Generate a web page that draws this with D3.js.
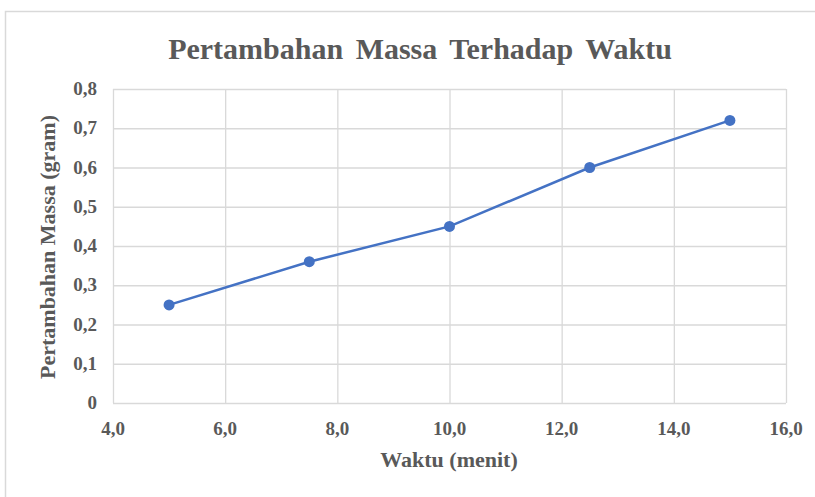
<!DOCTYPE html>
<html lang="en">
<head>
<meta charset="utf-8">
<title>Pertambahan Massa Terhadap Waktu</title>
<script src="https://cdn.jsdelivr.net/npm/d3@7"></script>
<style>
  body { margin: 0; background: #fff; }
  text { font-family: "Liberation Serif", "Times New Roman", serif; font-weight: bold; fill: #595959; }
  .grid line { stroke: #d9d9d9; stroke-width: 1.3; }
  .grid .domain { display: none; }
</style>
</head>
<body>
<div id="chart"></div>
<script>
  // data
  var waktu = [5, 7.5, 10, 12.5, 15];
  var massa = [0.25, 0.36, 0.45, 0.60, 0.72];
  var xTicks = [4, 6, 8, 10, 12, 14, 16];
  var yTicks = [0, 0.1, 0.2, 0.3, 0.4, 0.5, 0.6, 0.7, 0.8];

  var width = 815, height = 497;
  var margin = {left: 113, right: 29, top: 89, bottom: 94};

  var svg = d3.select("#chart").append("svg")
      .attr("width", width)
      .attr("height", height);

  // outer chart frame
  svg.append("rect")
      .attr("x", 5.5).attr("y", 11.5)
      .attr("width", width + 10).attr("height", height + 10)
      .attr("fill", "none")
      .attr("stroke", "#d9d9d9")
      .attr("stroke-width", 1.5);

  var x = d3.scaleLinear().domain([4, 16]).range([margin.left, width - margin.right]);
  var y = d3.scaleLinear().domain([0, 0.8]).range([height - margin.bottom, margin.top]);

  var fmtX = function(d) { return d3.format(".1f")(d).replace(".", ","); };
  var fmtY = function(d) { return d === 0 ? "0" : d3.format(".1f")(d).replace(".", ","); };

  // gridlines
  svg.append("g").attr("class", "grid")
      .attr("transform", "translate(0," + (height - margin.bottom) + ")")
      .call(d3.axisBottom(x).tickValues(xTicks).tickSize(-(height - margin.top - margin.bottom)).tickFormat(""));
  svg.append("g").attr("class", "grid")
      .attr("transform", "translate(" + margin.left + ",0)")
      .call(d3.axisLeft(y).tickValues(yTicks).tickSize(-(width - margin.left - margin.right)).tickFormat(""));

  // tick labels
  svg.append("g").selectAll("text")
      .data(xTicks)
    .enter().append("text")
      .attr("x", function(d) { return x(d); })
      .attr("y", height - margin.bottom + 32)
      .attr("text-anchor", "middle")
      .style("font-size", "19px")
      .text(fmtX);

  svg.append("g").selectAll("text")
      .data(yTicks)
    .enter().append("text")
      .attr("x", margin.left - 16)
      .attr("y", function(d) { return y(d) + 6; })
      .attr("text-anchor", "end")
      .style("font-size", "19px")
      .text(fmtY);

  // line + markers
  var pts = waktu.map(function(d, i) { return [d, massa[i]]; });

  svg.append("path")
      .datum(pts)
      .attr("fill", "none")
      .attr("stroke", "#4472c4")
      .attr("stroke-width", 2.5)
      .attr("d", d3.line().x(function(d) { return x(d[0]); }).y(function(d) { return y(d[1]); }));

  svg.append("g").selectAll("circle")
      .data(pts)
    .enter().append("circle")
      .attr("cx", function(d) { return x(d[0]); })
      .attr("cy", function(d) { return y(d[1]); })
      .attr("r", 5.5)
      .attr("fill", "#4472c4");

  // titles
  svg.append("text")
      .attr("x", 420)
      .attr("y", 59)
      .attr("text-anchor", "middle")
      .style("font-size", "30px")
      .style("word-spacing", "5px")
      .text("Pertambahan Massa Terhadap Waktu");

  svg.append("text")
      .attr("x", 449)
      .attr("y", 467)
      .attr("text-anchor", "middle")
      .style("font-size", "22px")
      .text("Waktu (menit)");

  svg.append("text")
      .attr("transform", "translate(55,247) rotate(-90)")
      .attr("text-anchor", "middle")
      .style("font-size", "22px")
      .text("Pertambahan Massa (gram)");
</script>
</body>
</html>
